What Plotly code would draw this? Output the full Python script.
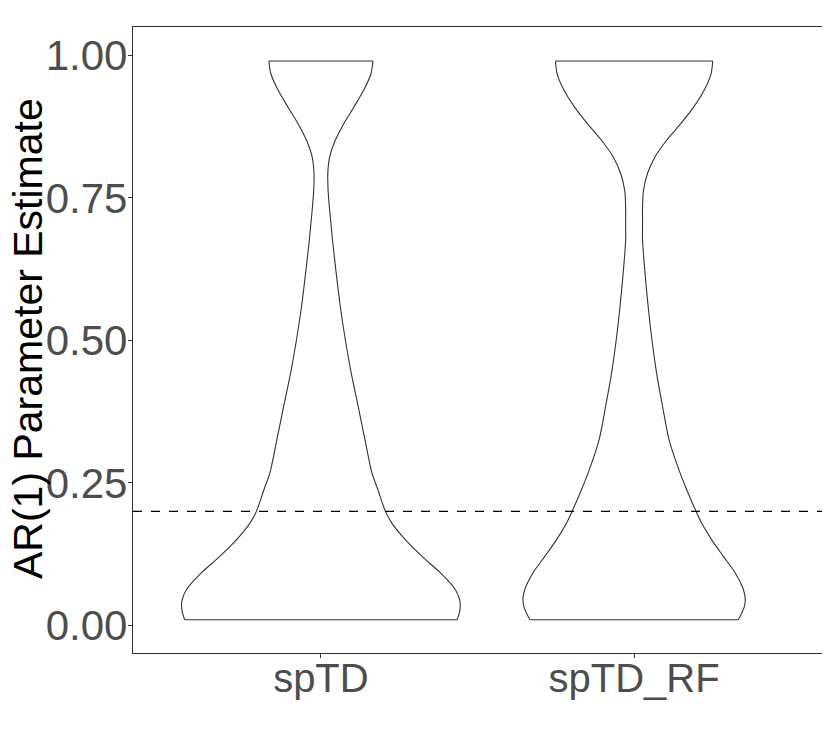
import plotly.graph_objects as go

# ---- data ----
categories = ["spTD", "spTD_RF"]

# y levels of the density outline
sptd_y = [0.990, 0.968, 0.939, 0.909, 0.880, 0.851, 0.822, 0.793, 0.763, 0.734,
          0.705, 0.676, 0.617, 0.559, 0.501, 0.442, 0.384, 0.325, 0.267, 0.238,
          0.200, 0.179, 0.150, 0.121, 0.092, 0.063, 0.045, 0.033, 0.022, 0.010]
# half-widths (scaled density) at those levels
sptd_w = [0.166, 0.160, 0.137, 0.105, 0.073, 0.046, 0.028, 0.022, 0.023, 0.027,
          0.032, 0.037, 0.049, 0.062, 0.078, 0.097, 0.119, 0.141, 0.163, 0.182,
          0.206, 0.227, 0.270, 0.323, 0.382, 0.429, 0.443, 0.445, 0.442, 0.435]

sptdrf_y = [0.990, 0.968, 0.939, 0.909, 0.880, 0.851, 0.822, 0.793, 0.763, 0.734,
            0.705, 0.676, 0.617, 0.559, 0.501, 0.442, 0.384, 0.325, 0.267, 0.238,
            0.200, 0.179, 0.150, 0.121, 0.092, 0.063, 0.045, 0.033, 0.022, 0.010]
sptdrf_w = [0.251, 0.246, 0.224, 0.190, 0.149, 0.104, 0.067, 0.043, 0.030, 0.027,
            0.027, 0.027, 0.035, 0.045, 0.057, 0.072, 0.091, 0.112, 0.147, 0.168,
            0.198, 0.216, 0.248, 0.285, 0.323, 0.349, 0.355, 0.352, 0.344, 0.333]

reference_value = 0.2
y_tick_vals = [0.00, 0.25, 0.50, 0.75, 1.00]
y_tick_text = ["0.00", "0.25", "0.50", "0.75", "1.00"]
y_title = "AR(1) Parameter Estimate"

FONT = "Liberation Sans, Arial, Helvetica, sans-serif"
OUTLINE = dict(color="#333333", width=1.1)

fig = go.Figure()

profiles = [(sptd_y, sptd_w), (sptdrf_y, sptdrf_w)]
for i, (ys, ws) in enumerate(profiles):
    pos = i + 1
    right_x = [pos + w for w in ws]
    left_x = [pos - w for w in ws]
    # white body (polygon)
    fig.add_trace(go.Scatter(
        x=right_x + left_x[::-1], y=list(ys) + list(ys)[::-1],
        mode="lines", fill="toself", fillcolor="white",
        line=dict(width=0), hoverinfo="skip", showlegend=False))
    # smooth curved sides
    fig.add_trace(go.Scatter(
        x=right_x + [None] + left_x, y=list(ys) + [None] + list(ys),
        mode="lines", line=dict(shape="spline", smoothing=0.8, **OUTLINE),
        connectgaps=False, hoverinfo="skip", showlegend=False,
        name=categories[i]))
    # flat top and bottom edges
    fig.add_trace(go.Scatter(
        x=[left_x[0], right_x[0], None, left_x[-1], right_x[-1]],
        y=[ys[0], ys[0], None, ys[-1], ys[-1]],
        mode="lines", line=OUTLINE, hoverinfo="skip", showlegend=False))

fig.add_hline(y=reference_value, line=dict(color="black", width=1.2, dash="dash"))

fig.update_layout(
    width=830, height=747,
    margin=dict(l=125, r=16, t=19, b=102),
    paper_bgcolor="white", plot_bgcolor="white",
    font=dict(family=FONT),
    showlegend=False,
)
fig.update_xaxes(
    range=[0.4, 2.6], tickvals=[1, 2], ticktext=categories,
    showgrid=False, zeroline=False, automargin=False,
    showline=True, mirror=True, linecolor="#333333", linewidth=1.3,
    ticks="outside", ticklen=4, tickcolor="#333333",
    ticklabelstandoff=-14,
    tickfont=dict(size=40, color="#4D4D4D", family=FONT),
)
fig.update_yaxes(
    range=[-0.0484, 1.0496], tickvals=y_tick_vals, ticktext=y_tick_text,
    showgrid=False, zeroline=False, automargin=False,
    showline=True, mirror=True, linecolor="#333333", linewidth=1.3,
    ticks="outside", ticklen=4, tickcolor="#333333",
    ticklabelstandoff=-8,
    tickfont=dict(size=42, color="#4D4D4D", family=FONT),
)
fig.add_annotation(
    text=y_title, textangle=-90, showarrow=False,
    xref="paper", yref="paper", x=-(133 - 28) / 689, y=0.5016,
    xanchor="center", yanchor="middle",
    font=dict(size=41, color="black", family=FONT),
)

fig.write_html("out.html")
